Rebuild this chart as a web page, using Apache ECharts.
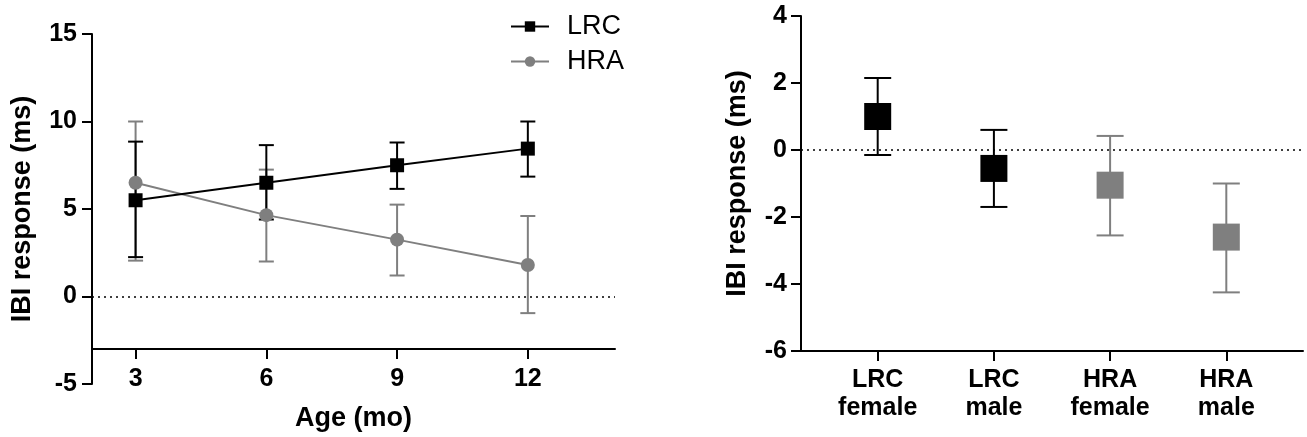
<!DOCTYPE html>
<html>
<head>
<meta charset="utf-8">
<script src="https://cdn.jsdelivr.net/npm/echarts@6/dist/echarts.min.js"></script>
<style>
  html, body { margin: 0; padding: 0; background: #fff; }
  #chart { width: 1307px; height: 437px; }
</style>
</head>
<body>
<div id="chart"></div>
<script>
// left panel: response by age
var ages = [3, 6, 9, 12];
var lrcMean = [5.5, 6.5, 7.5, 8.45];
var lrcLow = [2.25, 4.4, 6.15, 6.85];
var lrcHigh = [8.85, 8.65, 8.8, 10.0];
var hraMean = [6.5, 4.65, 3.25, 1.8];
var hraLow = [2.05, 2.0, 1.2, -0.95];
var hraHigh = [10.0, 7.25, 5.25, 4.6];

// right panel: response by group
var groups = ['LRC\nfemale', 'LRC\nmale', 'HRA\nfemale', 'HRA\nmale'];
var groupMean = [1.0, -0.55, -1.05, -2.6];
var groupLow = [-0.15, -1.7, -2.55, -4.25];
var groupHigh = [2.15, 0.6, 0.42, -1.0];

var BLACK = '#000';
var GRAY = '#7f7f7f';
var FONT = '"Liberation Sans", Arial, sans-serif';

function errorBar(colorOf, capW) {
    return function (params, api) {
        var x = api.value(0);
        var top = api.coord([x, api.value(2)]);
        var bot = api.coord([x, api.value(1)]);
        var style = { stroke: colorOf(params.dataIndex), lineWidth: 2 };
        return {
            type: 'group',
            children: [
                { type: 'line', shape: { x1: top[0], y1: top[1], x2: bot[0], y2: bot[1] }, style: style },
                { type: 'line', shape: { x1: top[0] - capW / 2, y1: top[1], x2: top[0] + capW / 2, y2: top[1] }, style: style },
                { type: 'line', shape: { x1: bot[0] - capW / 2, y1: bot[1], x2: bot[0] + capW / 2, y2: bot[1] }, style: style }
            ]
        };
    };
}

function groupColor(i) {
    return groups[i].indexOf('LRC') === 0 ? BLACK : GRAY;
}

var tickText = { color: '#000', fontSize: 25, fontWeight: 'bold', fontFamily: FONT };
var titleText = { color: '#000', fontSize: 27, fontWeight: 'bold', fontFamily: FONT };
var axisLine = { show: true, onZero: false, lineStyle: { color: '#000', width: 2 } };
var axisTick = { show: true, length: 10, lineStyle: { color: '#000', width: 2 } };
var zeroLine = {
    symbol: 'none', silent: true, animation: false,
    label: { show: false },
    lineStyle: { type: [2, 4], color: '#000', width: 1.5 },
    data: [{ yAxis: 0 }]
};

var chart = echarts.init(document.getElementById('chart'));
chart.setOption({
    animation: false,
    textStyle: { fontFamily: FONT },
    legend: {
        orient: 'vertical',
        left: 505,
        top: 8,
        itemWidth: 38,
        itemHeight: 13,
        itemGap: 8,
        textStyle: { color: '#000', fontSize: 27, fontFamily: FONT, padding: [0, 0, 0, 13] },
        data: ['LRC', 'HRA']
    },
    grid: [
        { left: 92, top: 34, width: 523, height: 315 },
        { left: 92, top: 34, width: 523, height: 350 },
        { left: 801, top: 16, width: 502, height: 335 }
    ],
    xAxis: [{
        gridIndex: 0, type: 'value', min: 2, max: 14,
        axisLine: axisLine, axisTick: Object.assign({ customValues: ages }, axisTick),
        axisLabel: Object.assign({ customValues: ages, margin: 18 }, tickText),
        splitLine: { show: false },
        name: 'Age (mo)', nameLocation: 'middle', nameGap: 56,
        nameTextStyle: titleText
    }, {
        gridIndex: 1, type: 'value', min: 0, max: 1, show: false
    }, {
        gridIndex: 2, type: 'value', min: -0.66, max: 3.66,
        axisLine: axisLine, axisTick: Object.assign({ customValues: [0, 1, 2, 3] }, axisTick),
        axisLabel: Object.assign({
            customValues: [0, 1, 2, 3], margin: 15, lineHeight: 28,
            formatter: function (v) { return groups[Math.round(v)]; }
        }, tickText),
        splitLine: { show: false }
    }],
    yAxis: [{
        gridIndex: 0, type: 'value', min: -3, max: 15, show: false
    }, {
        gridIndex: 1, type: 'value', min: -5, max: 15, interval: 5,
        axisLine: axisLine, axisTick: axisTick,
        axisLabel: Object.assign({ margin: 15 }, tickText),
        splitLine: { show: false },
        name: 'IBI response (ms)', nameLocation: 'middle', nameGap: 56,
        nameTextStyle: titleText
    }, {
        gridIndex: 2, type: 'value', min: -6, max: 4, interval: 2,
        axisLine: axisLine, axisTick: axisTick,
        axisLabel: Object.assign({ margin: 14 }, tickText),
        splitLine: { show: false },
        name: 'IBI response (ms)', nameLocation: 'middle', nameGap: 50,
        nameTextStyle: titleText
    }],
    series: [{
        type: 'custom', xAxisIndex: 0, yAxisIndex: 0, silent: true,
        renderItem: errorBar(function () { return GRAY; }, 15),
        data: ages.map(function (a, i) { return [a, hraLow[i], hraHigh[i]]; }),
        z: 1
    }, {
        type: 'custom', xAxisIndex: 0, yAxisIndex: 0, silent: true,
        renderItem: errorBar(function () { return BLACK; }, 15),
        data: ages.map(function (a, i) { return [a, lrcLow[i], lrcHigh[i]]; }),
        z: 2
    }, {
        name: 'HRA', type: 'line', xAxisIndex: 0, yAxisIndex: 0,
        symbol: 'circle', symbolSize: 14,
        itemStyle: { color: GRAY },
        lineStyle: { color: GRAY, width: 2 },
        data: ages.map(function (a, i) { return [a, hraMean[i]]; }),
        z: 3
    }, {
        name: 'LRC', type: 'line', xAxisIndex: 0, yAxisIndex: 0,
        symbol: 'rect', symbolSize: 14,
        itemStyle: { color: BLACK },
        lineStyle: { color: BLACK, width: 2 },
        data: ages.map(function (a, i) { return [a, lrcMean[i]]; }),
        markLine: zeroLine,
        z: 4
    }, {
        type: 'custom', xAxisIndex: 2, yAxisIndex: 2, silent: true,
        renderItem: errorBar(groupColor, 27),
        data: groups.map(function (g, i) { return [i, groupLow[i], groupHigh[i]]; }),
        markLine: zeroLine,
        z: 1
    }, {
        type: 'scatter', xAxisIndex: 2, yAxisIndex: 2,
        symbol: 'rect', symbolSize: 27,
        itemStyle: { color: function (p) { return groupColor(p.dataIndex); }, opacity: 1 },
        data: groups.map(function (g, i) { return [i, groupMean[i]]; }),
        z: 3
    }]
});
</script>
</body>
</html>
